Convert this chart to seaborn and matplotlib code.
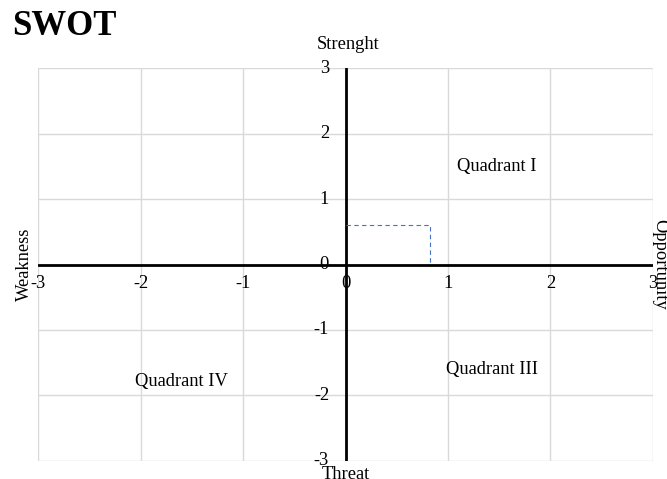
import matplotlib
matplotlib.use("Agg")
import matplotlib.pyplot as plt
import seaborn as sns
import pandas as pd

sns.set_theme(style="white")
plt.rcParams['font.family'] = ['Liberation Serif', 'DejaVu Serif']
plt.rcParams['text.color'] = 'black'

# Data
ticks = [-3, -2, -1, 0, 1, 2, 3]
point_x = 0.82
point_y = 0.6
quad_labels = ["Quadrant I", "Quadrant III", "Quadrant IV"]
quad_x = [1.48, 1.43, -1.6]
quad_y = [1.5, -1.6, -1.78]

fig = plt.figure(figsize=(6.67, 4.79), dpi=100)
ax = fig.add_axes([0.057, 0.0376, 0.922, 0.8204])
ax.set_xlim(-3, 3)
ax.set_ylim(-3, 3)

for t in ticks:
    ax.axvline(t, color="#d9d9d9", lw=1, zorder=0)
    ax.axhline(t, color="#d9d9d9", lw=1, zorder=0)

ax.axhline(0, color="black", lw=2, zorder=2)
ax.axvline(0, color="black", lw=2, zorder=2)

df = pd.DataFrame({"x": [0, point_x, point_x], "y": [point_y, point_y, 0],
                   "u": [0, 0, 0]})
sns.lineplot(data=df, x="x", y="y", sort=False, estimator=None, units="u",
             ax=ax, color="#4472c4", lw=0.8, linestyle=(0, (4, 3)), zorder=3)

ax.set_xticks([])
ax.set_yticks([])
ax.set_xlabel("")
ax.set_ylabel("")
for s in ax.spines.values():
    s.set_visible(False)

fs = 13.3
for t in ticks:
    ax.text(-0.16, t, str(t), ha="right", va="center", fontsize=fs, zorder=4)
    ax.text(t, -0.29, str(t), ha="center", va="center", fontsize=fs, zorder=4)

for lab, qx, qy in zip(quad_labels, quad_x, quad_y):
    ax.text(qx, qy, lab, ha="center", va="center", fontsize=fs)

ax.text(0.03, 3.36, "Strenght", ha="center", va="center", fontsize=fs)
ax.text(0, -3.2, "Threat", ha="center", va="center", fontsize=fs)
ax.text(-3.13, 0, "Weakness", ha="center", va="center", rotation=90, fontsize=fs)
ax.text(3.07, 0, "Opportunity", ha="center", va="center", rotation=-90, fontsize=fs)

fig.text(0.018, 0.945, "SWOT", fontsize=25, fontweight="bold", ha="left", va="center")

fig.savefig("out.png", dpi=100)
